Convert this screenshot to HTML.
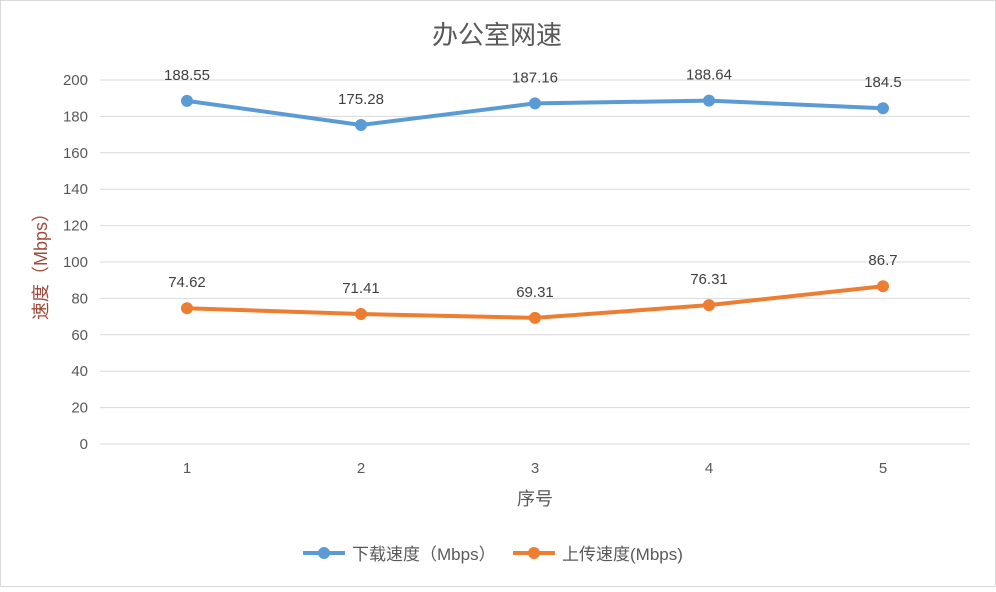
<!DOCTYPE html>
<html><head><meta charset="utf-8"><style>
body{margin:0;background:#fff;}
svg text{font-family:"Liberation Sans","Noto Sans CJK SC",sans-serif;}
</style></head><body>
<svg id="chart" width="996" height="587" viewBox="0 0 996 587" xmlns="http://www.w3.org/2000/svg">
<rect x="0.5" y="0.5" width="995" height="586" fill="#fff" stroke="#d9d9d9"/>
<text x="497" y="44" text-anchor="middle" font-size="26" fill="#595959">办公室网速</text>
<g id="grid"></g><g id="yticks"></g><g id="xticks"></g><g id="series"></g>
<text transform="translate(47,262) rotate(-90)" text-anchor="middle" font-size="18" fill="#9e4a3a">速度（Mbps）</text>
<text x="535" y="505" text-anchor="middle" font-size="18" fill="#595959">序号</text>
<g>
<g>
<line x1="303" y1="553" x2="345" y2="553" stroke="#5b9bd5" stroke-width="4"/><circle cx="324" cy="553" r="6" fill="#5b9bd5"/>
<text x="352" y="560" font-size="17" fill="#595959">下载速度（Mbps）</text></g>
<g>
<line x1="513" y1="553" x2="555" y2="553" stroke="#ed7d31" stroke-width="4"/><circle cx="534" cy="553" r="6" fill="#ed7d31"/>
<text x="562" y="560" font-size="17" fill="#595959">上传速度(Mbps)</text></g>
</g>
</svg>
<script>
const categories=["1","2","3","4","5"];
const downloadValues=[188.55,175.28,187.16,188.64,184.5];
const uploadValues=[74.62,71.41,69.31,76.31,86.7];
const yTickLabels=[0,20,40,60,80,100,120,140,160,180,200];
const NS="http://www.w3.org/2000/svg";
const left=100,right=970,y0=444,yTop=80,yMax=200;
const band=(right-left)/categories.length;
function xs(i){return left+band*(i+0.5);}
function ys(v){return y0-(v/yMax)*(y0-yTop);}
function mk(tag,attrs,parent){const e=document.createElementNS(NS,tag);for(const k in attrs)e.setAttribute(k,attrs[k]);parent.appendChild(e);return e;}
const grid=document.getElementById('grid'),yt=document.getElementById('yticks'),xt=document.getElementById('xticks'),sg=document.getElementById('series');
yTickLabels.forEach(v=>{
 const l=mk('line',{x1:left,x2:right,y1:ys(v),y2:ys(v),stroke:'#d9d9d9','stroke-width':1},grid);
 
 
 const t=mk('text',{x:88,y:ys(v)+5,'text-anchor':'end','font-size':15,fill:'#595959'},yt);
 t.textContent=v;
 
 
});
categories.forEach((c,i)=>{
 const t=mk('text',{x:xs(i),y:473,'text-anchor':'middle','font-size':15,fill:'#595959'},xt);
 t.textContent=c;
 
 
});
function drawSeries(vals,color,name){
 const g=mk('g',{},sg);
 
 
 const p=mk('polyline',{points:vals.map((v,i)=>xs(i)+','+ys(v)).join(' '),fill:'none',stroke:color,'stroke-width':4,'stroke-linejoin':'round'},g);
 
 
 vals.forEach((v,i)=>{
  const c=mk('circle',{cx:xs(i),cy:ys(v),r:6,fill:color},g);
  
  
  const t=mk('text',{x:xs(i),y:ys(v)-21,'text-anchor':'middle','font-size':15,fill:'#404040'},g);
  t.textContent=v;
  
  
 });
}
drawSeries(downloadValues,'#5b9bd5','download');
drawSeries(uploadValues,'#ed7d31','upload');
</script>
</body></html>
